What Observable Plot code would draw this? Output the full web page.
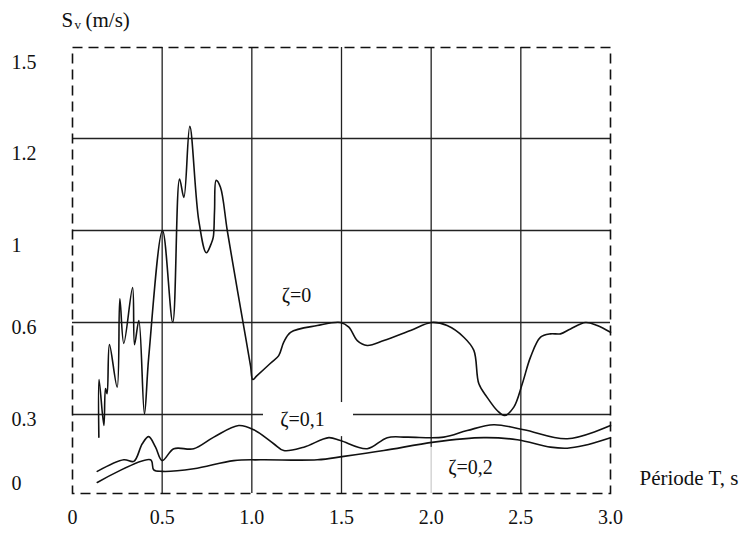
<!DOCTYPE html>
<html>
<head>
<meta charset="utf-8">
<script src="https://cdn.jsdelivr.net/npm/d3@7"></script>
<script src="https://cdn.jsdelivr.net/npm/@observablehq/plot@0.6"></script>
<style>
  html, body { margin: 0; padding: 0; background: #fff; }
</style>
</head>
<body>
<div id="chart"></div>
<script>
// ---- Data ----
const xTicks = [0, 0.5, 1.0, 1.5, 2.0, 2.5, 3.0];
const xTickLabels = ["0", "0.5", "1.0", "1.5", "2.0", "2.5", "3.0"];
const yTicks = [0, 0.3, 0.6, 1, 1.2, 1.5];
const yTickLabels = ["0", "0.3", "0.6", "1", "1.2", "1.5"];
const xGrid = [0.5, 1.0, 1.5, 2.0, 2.5];
const yGrid = [0.3, 0.6, 1, 1.2];

// zeta = 0
const periodZ0 = [0.147,0.148,0.175,0.184,0.193,0.206,0.249,0.264,0.286,0.335,0.346,0.370,0.401,0.425,0.502,0.559,0.597,0.621,0.654,0.704,0.746,0.773,0.785,0.792,0.801,0.825,0.863,0.920,0.965,0.993,1.005,1.026,1.104,1.150,1.178,1.216,1.365,1.494,1.541,1.588,1.643,1.736,1.885,2.002,2.089,2.182,2.238,2.266,2.312,2.368,2.409,2.461,2.508,2.554,2.610,2.665,2.721,2.777,2.861,2.926,3.000];
const svZ0 = [0.214,0.414,0.258,0.385,0.368,0.528,0.389,0.703,0.532,0.752,0.528,0.609,0.302,0.487,1.0,0.601,1.112,1.072,1.240,1.022,0.903,0.942,0.971,1.043,1.109,1.094,1.0,0.739,0.553,0.458,0.414,0.425,0.467,0.492,0.536,0.568,0.590,0.600,0.585,0.541,0.525,0.541,0.574,0.600,0.590,0.552,0.509,0.400,0.356,0.313,0.296,0.324,0.400,0.487,0.552,0.563,0.563,0.579,0.600,0.590,0.568];

// zeta = 0,1
const periodZ1 = [0.138,0.286,0.342,0.389,0.425,0.463,0.500,0.565,0.676,0.788,0.927,1.011,1.122,1.178,1.290,1.429,1.494,1.643,1.755,1.866,2.070,2.201,2.349,2.517,2.759,3.000];
const svZ1 = [0.084,0.128,0.122,0.189,0.216,0.176,0.125,0.170,0.170,0.214,0.258,0.242,0.189,0.163,0.176,0.212,0.201,0.170,0.212,0.214,0.214,0.239,0.261,0.242,0.208,0.258];

// zeta = 0,2
const periodZ2 = [0.138,0.435,0.453,0.500,0.676,0.899,1.048,1.365,1.513,1.736,2.015,2.294,2.480,2.665,2.759,2.851,3.000];
const svZ2 = [0.042,0.128,0.090,0.084,0.094,0.125,0.128,0.128,0.141,0.163,0.195,0.212,0.204,0.176,0.172,0.182,0.212];

const curveLabels = ["ζ=0", "ζ=0,1", "ζ=0,2"];
const labelPeriods = [1.249, 1.283, 2.219];
const labelSv = [0.717, 0.281, 0.099];

// ---- Build tables ----
const rows = (ts, vs, s) => ts.map((t, i) => ({T: t, Sv: vs[i], s}));
const curves = [
  ...rows(periodZ0, svZ0, "ζ=0"),
  ...rows(periodZ1, svZ1, "ζ=0,1"),
  ...rows(periodZ2, svZ2, "ζ=0,2")
];
const labels = curveLabels.map((t, i) => ({text: t, T: labelPeriods[i], Sv: labelSv[i]}));

// The original axis is not uniform: the labelled values sit on unevenly spaced grid lines.
const yWarp = d3.scaleLinear().domain(yTicks).range([0, 79, 171, 263, 355, 446]);

const font = "'Liberation Serif', 'Times New Roman', serif";
const ink = "#111";
const gridInk = "#222";

const chart = Plot.plot({
  width: 742,
  height: 533,
  marginLeft: 72,
  marginRight: 132,
  marginTop: 47,
  marginBottom: 40,
  x: {domain: [0, 3], axis: null},
  y: {transform: yWarp, domain: [0, 446], axis: null},
  style: {fontFamily: font, fontSize: "20px", background: "#fff", color: ink},
  marks: [
    // grid
    Plot.ruleX(xGrid, {x: d => d, y1: 0, y2: 1.5, stroke: gridInk, strokeWidth: 1.3}),
    Plot.ruleY(yGrid, {y: d => d, x1: 0, x2: 3, stroke: gridInk, strokeWidth: 1.3}),
    // label boxes masking the grid
    Plot.rect([{x1: 1.065, x2: 1.567, y1: 0.216, y2: 0.339}], {x1: "x1", x2: "x2", y1: "y1", y2: "y2", fill: "#fff"}),
    Plot.rect([{x1: 1.96, x2: 2.45, y1: 0, y2: 0.175}], {x1: "x1", x2: "x2", y1: "y1", y2: "y2", fill: "#fff", fillOpacity: 0.78}),
    // frame
    Plot.frame({stroke: ink, strokeWidth: 1.6, strokeDasharray: "10,6"}),
    // curves
    Plot.line(curves, {x: "T", y: "Sv", z: "s", stroke: ink, strokeWidth: 1.6, curve: "catmull-rom"}),
    // curve labels
    Plot.text(labels, {x: "T", y: "Sv", text: "text", fill: ink, fontSize: 20}),
    // x tick labels
    Plot.text(xTicks, {x: d => d, frameAnchor: "bottom", dy: 30, text: (d, i) => xTickLabels[i], fill: ink}),
    // y tick labels
    Plot.text(yTicks.filter(d => d >= 1), {y: d => d, frameAnchor: "left", dx: -61, dy: 15, textAnchor: "start",
      text: d => yTickLabels[yTicks.indexOf(d)], fill: ink}),
    Plot.text(yTicks.filter(d => d > 0 && d < 1), {y: d => d, frameAnchor: "left", dx: -61, dy: 5, textAnchor: "start",
      text: d => yTickLabels[yTicks.indexOf(d)], fill: ink}),
    Plot.text(yTicks.filter(d => d === 0), {y: d => d, frameAnchor: "left", dx: -61, dy: -10, textAnchor: "start",
      text: d => yTickLabels[yTicks.indexOf(d)], fill: ink}),
    // axis titles
    Plot.text(["S"], {frameAnchor: "top-left", dx: -11, dy: -21, textAnchor: "start", lineAnchor: "bottom", fontSize: 21, fill: ink}),
    Plot.text(["v"], {frameAnchor: "top-left", dx: 2, dy: -19, textAnchor: "start", lineAnchor: "bottom", fontSize: 13, fill: ink}),
    Plot.text(["(m/s)"], {frameAnchor: "top-left", dx: 13, dy: -21, textAnchor: "start", lineAnchor: "bottom", fontSize: 21, fill: ink}),
    Plot.text(["Période T, s"], {frameAnchor: "bottom-right", dx: 29, dy: -9, textAnchor: "start", lineAnchor: "bottom", fontSize: 21, fill: ink})
  ]
});
document.getElementById("chart").appendChild(chart);
</script>
</body>
</html>
